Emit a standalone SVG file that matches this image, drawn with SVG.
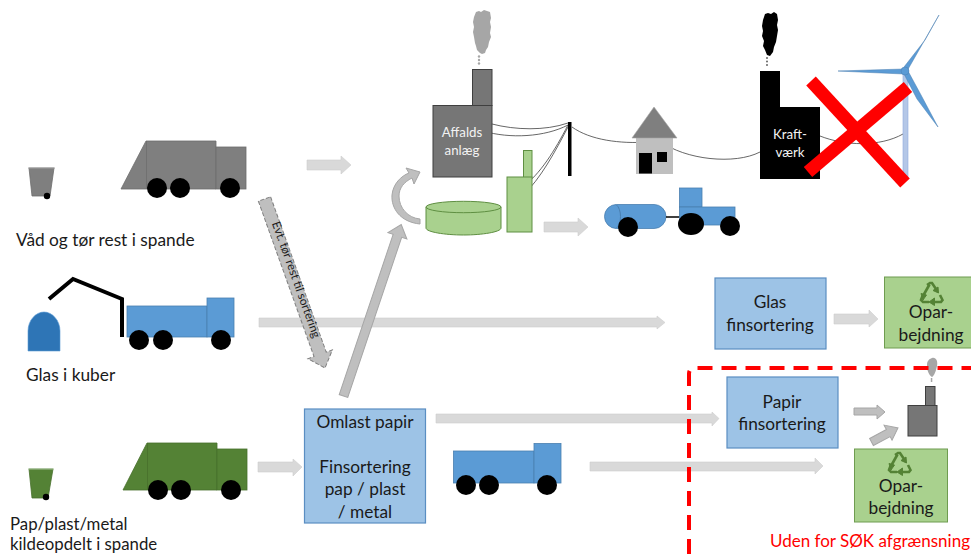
<svg xmlns="http://www.w3.org/2000/svg" xmlns:xlink="http://www.w3.org/1999/xlink" width="971" height="554" viewBox="0 0 971 554">
<style>
text{font-family:"Lato","Open Sans","Liberation Sans",sans-serif;fill:#1a1a1a;font-size:17.300px}
.m{text-anchor:middle}
.w{fill:#f2f2f2;font-size:13.300px}
.wh{fill:#000}
.gr{fill:#7f7f7f;stroke:#6d6d6d;stroke-width:.8}
.bl{fill:#5b9bd5;stroke:#4a7fb0;stroke-width:.8}
.dg{fill:#548235;stroke:#47702c;stroke-width:.8}
.fac{fill:#767676;stroke:#3f3f3f;stroke-width:1}
.lg{fill:#a9d18e;stroke:#5f8f42;stroke-width:1}
.box{fill:#9dc3e6;stroke:#5a8ec2;stroke-width:1.2}
.op{fill:#a9d18e;stroke:#6f9c50;stroke-width:1}
.la{fill:#d9d9d9;stroke:#cfcfcf;stroke-width:.6}
.da{fill:#bfbfbf;stroke:#a6a6a6;stroke-width:1}
.wire{fill:none;stroke:#404040;stroke-width:.8}
</style>
<defs>
<g id="rec" fill="none" stroke="#548235" stroke-width="2.6">
<path d="M-2.5,-8.5 L-9,3"/><path d="M-5,-8 L-2,-10 L0,-10 L4,-4"/><path d="M8,2 L10.5,7 L9,9 L2,9"/><path d="M-3,9 L-9,9 L-11,7 L-9.5,3"/>
<path d="M6,-6 L6.5,0 L1,-2.5 Z" fill="#548235" stroke-width="1"/>
<path d="M2.5,5 L2.5,12.5 L-3,9 Z" fill="#548235" stroke-width="1"/>
<path d="M-11,0.5 L-5.5,2 L-9,7 Z" fill="#548235" stroke-width="1"/>
</g>
</defs>

<g id="connectors">
<path class="la" d="M307,160H341V156L351,165L341,174V170H307Z"/>
<path class="la" d="M544,222H578V218L588,227L578,236V232H544Z"/>
<path class="la" d="M259,318H657V316L665,322.500L657,329V327H259Z"/>
<path class="la" d="M258,462H293V459L302,467L293,476V472H258Z"/>
<path class="la" d="M436,414H712V412L719,418.500L712,426V423H436Z"/>
<path class="la" d="M590,462H815V458L823,466L815,474V471H590Z"/>
<path class="la" d="M834,314H869V310L878,319L869,327V324H834Z"/>
<path class="da" d="M854,408H877V405L885,412L877,419V415H854Z"/>
<path class="da" d="M0,-4H19V-9L30,0L19,8V4H0Z" transform="translate(871.500,442) rotate(-28)"/>
<path class="da" d="M0,-4.500H169V-10L181,0L169,10V4.500H0Z" transform="translate(343.500,396) rotate(-71.400)"/>
<path class="da" d="M420,224C400,222 391,208 392,195C393,184 401,176 409,173L406,168L420,172L414,184L412,178C404,182 399,188 399,196C399,208 408,218 420,219Z"/>
<path d="M0,-6.500H165V-13L179.500,0L165,13V6.500H0Z" transform="translate(264.500,199) rotate(70.300)" fill="#bfbfbf" stroke="#7f7f7f" stroke-width="1" stroke-dasharray="4 2"/>
<text class="m" transform="translate(292.500,281) rotate(70.300)" style="font-size:11.800px">Evt. tør rest til sortering</text>
</g>

<g id="wires">
<path class="wire" d="M492,124C515,130 545,131 568,123"/>
<path class="wire" d="M483,131C510,139 545,137 568,125"/>
<path class="wire" d="M522,187C540,175 555,150 568,125"/>
<path class="wire" d="M523,195C540,180 556,150 568,127"/>
<path class="wire" d="M572,127C590,140 620,144 648,142"/>
<path class="wire" d="M660,141C685,160 735,165 760,152"/>
<path class="wire" d="M820,136C845,146 880,147 903,134"/>
</g>

<g id="bin-rest">
<path class="gr" d="M29,168H54L50,196H32Z"/><path d="M28,168H55" stroke="#a6a6a6" fill="none"/><circle class="wh" cx="47" cy="196" r="3.200"/>
</g>
<g id="truck-rest">
<path class="gr" d="M121,189L146,141H216V189Z"/><path d="M146.500,141V189" stroke="#6d6d6d" stroke-width=".8"/><rect class="gr" x="216" y="147" width="30" height="42"/>
<circle class="wh" cx="157" cy="188" r="10"/><circle class="wh" cx="180" cy="188" r="10"/><circle class="wh" cx="230" cy="188" r="10"/>
</g>
<text id="label-rest" x="16" y="246">Våd og tør rest i spande</text>

<g id="glass-igloo">
<path d="M28,351V331C28,320 36,312 44,312C52,312 60,320 60,331V351Z" fill="#2e75b6" stroke="#5b9bd5" stroke-width=".6"/>
<path d="M49,299L73,279L122,299V337" fill="none" stroke="#000" stroke-width="4"/>
</g>
<g id="truck-glass">
<rect class="bl" x="127" y="306" width="80" height="31"/><rect class="bl" x="207" y="298" width="27" height="39"/>
<circle class="wh" cx="139" cy="340" r="10"/><circle class="wh" cx="163" cy="340" r="10"/><circle class="wh" cx="221" cy="340" r="10"/>
</g>
<text id="label-glass" x="26" y="381">Glas i kuber</text>

<g id="bin-paper">
<path class="dg" d="M29,469H53L48,498H32Z"/><path d="M28,469H54" stroke="#a9c79a" fill="none"/><circle class="wh" cx="46" cy="497" r="3.200"/>
</g>
<g id="truck-paper">
<path class="dg" d="M123,490L147,443H217V490Z"/><path d="M147.500,443V490" stroke="#47702c" stroke-width=".8"/><rect class="dg" x="217" y="449" width="30" height="41"/>
<circle class="wh" cx="158" cy="490" r="10"/><circle class="wh" cx="181" cy="490" r="10"/><circle class="wh" cx="231" cy="490" r="10"/>
</g>
<text id="label-paper" x="10" y="530" style="font-size:16.800px">Pap/plast/metal<tspan x="10" y="550.300">kildeopdelt i spande</tspan></text>

<g id="omlast">
<rect class="box" x="304.500" y="409" width="121" height="114"/>
<text class="m" x="365" y="428">Omlast papir</text>
<text class="m" x="365" y="473">Finsortering</text>
<text class="m" x="365" y="495">pap / plast</text>
<text class="m" x="365" y="518">/ metal</text>
</g>
<g id="truck-omlast">
<rect class="bl" x="453.500" y="451" width="80.500" height="32"/><rect class="bl" x="534" y="443.500" width="27" height="39.500"/>
<circle class="wh" cx="466" cy="485" r="10"/><circle class="wh" cx="489" cy="485" r="10"/><circle class="wh" cx="547" cy="485" r="10"/>
</g>

<g id="affald">
<path d="M476,12L479,11L481,12L484,10L487,11L490,12L491,18L490,22L491,27L490,33L491,37L489,42L488,47L486,50L485,53L482,54L480,53L477,50L476,46L475,43L474,37L473,32L474,27L473,22L474,17Z" fill="#a6a6a6"/>
<circle cx="479" cy="56.500" r="1.200" fill="#a6a6a6"/><circle cx="479" cy="60" r="1.200" fill="#a6a6a6"/><circle cx="479" cy="63.500" r="1.200" fill="#a6a6a6"/>
<rect class="fac" x="472.500" y="69.500" width="19.500" height="36"/>
<rect class="fac" x="433" y="105.500" width="59" height="71.500"/>
<text class="m w" x="462" y="137">Affalds</text><text class="m w" x="462" y="155">anlæg</text>
</g>
<g id="biogas">
<path class="lg" d="M426,207V228C426,232 445,235 463.500,235C482,235 501,232 501,228V207Z"/>
<ellipse class="lg" cx="463.500" cy="207" rx="37.500" ry="5.700"/>
</g>
<g id="green-plant">
<rect class="lg" x="523.500" y="150.500" width="8.500" height="27"/><rect class="lg" x="507" y="177" width="25" height="55"/>
</g>
<rect id="pole" x="568" y="122" width="3.500" height="54" fill="#000"/>
<g id="house">
<rect x="636" y="138" width="37" height="36" fill="#bfbfbf"/>
<path d="M632,138L654,107L677,138Z" fill="#7f7f7f" stroke="#a6a6a6" stroke-width=".6"/>
<rect x="639" y="153" width="13" height="20.500" fill="#000"/><rect x="657" y="152" width="10" height="10" fill="#000"/>
</g>
<g id="tractor">
<rect class="bl" x="604.500" y="204.500" width="61.500" height="24" rx="12"/><path d="M616,204.500C622,209 622,224 616,228.500" fill="none" stroke="#4a7fb0"/>
<path d="M666,217H680" stroke="#000" stroke-width="1.500"/>
<rect class="bl" x="679.500" y="188" width="22.500" height="19"/><rect class="bl" x="679.500" y="207" width="55.500" height="18"/>
<circle class="wh" cx="628" cy="227" r="10"/><ellipse class="wh" cx="691" cy="224" rx="13" ry="11"/><circle class="wh" cx="730" cy="226" r="10"/>
</g>
<g id="kraft">
<path d="M765,14L768,13L771,14L774,12L777,14L778,20L777,25L778,30L777,36L776,42L774,47L773,52L770,56L767,55L765,50L763,46L764,41L762,36L763,31L762,26L763,20Z" fill="#000"/>
<circle cx="767" cy="58" r="1" fill="#666"/><circle cx="767" cy="61.500" r="1" fill="#666"/><circle cx="767" cy="65" r="1" fill="#666"/>
<path d="M760,71H780V107H820V179H760Z" fill="#000"/>
<text class="m w" x="790" y="139">Kraft-</text><text class="m w" x="790" y="157">værk</text>
</g>
<g id="turbine">
<rect x="903" y="72" width="5" height="106" fill="#b4c7e7" stroke="#8faadc" stroke-width=".6"/>
<path d="M904,67L925,40L939,15L907,71Z M904,69L870,70L838,71L870,72.500L904,74Z M908,71L921,95L938,127L917,99L904,74Z" fill="#5b9bd5" stroke="#4a7fb0" stroke-width=".5"/>
<circle cx="905" cy="71" r="4" fill="#5b9bd5" stroke="#4a7fb0" stroke-width=".5"/>
</g>
<g id="cross" stroke="#ff0000" stroke-width="13" fill="none">
<path d="M811,81L905,183"/><path d="M908,87L808,172"/>
</g>

<g id="glas-fin">
<rect class="box" x="715" y="278" width="111" height="71"/>
<text class="m" x="770" y="308">Glas</text><text class="m" x="770" y="331">finsortering</text>
</g>
<g id="opar-1">
<rect class="op" x="884.500" y="277" width="90" height="71"/>
<use xlink:href="#rec" href="#rec" x="932" y="293"/>
<text class="m" x="931" y="318">Opar-</text><text class="m" x="931" y="341">bejdning</text>
</g>
<g id="papir-fin">
<rect class="box" x="727" y="377" width="111" height="71"/>
<text class="m" x="782" y="408">Papir</text><text class="m" x="782" y="430">finsortering</text>
</g>
<g id="small-plant">
<path d="M932,358C936,357 938,361 937,366C936,371 934,376 932,377C929,375 927,371 927,365C927,361 929,359 932,358Z" fill="#a6a6a6"/>
<rect x="930.800" y="378" width="1.500" height="4" fill="#a6a6a6"/>
<rect class="fac" x="925.500" y="386.500" width="9.500" height="19"/><rect class="fac" x="908" y="405.500" width="29" height="30.500"/>
</g>
<g id="opar-2">
<rect class="op" x="854.500" y="449" width="93" height="73"/>
<use xlink:href="#rec" href="#rec" x="900" y="463"/>
<text class="m" x="901" y="492">Opar-</text><text class="m" x="901" y="514">bejdning</text>
</g>
<path id="boundary" d="M689,554V374Q689,368 695,368H971" fill="none" stroke="#ff0000" stroke-width="4" stroke-dasharray="15 9"/>
<text id="label-boundary" x="770" y="547" style="fill:#ff0000;font-size:17px">Uden for SØK afgrænsning</text>
</svg>
